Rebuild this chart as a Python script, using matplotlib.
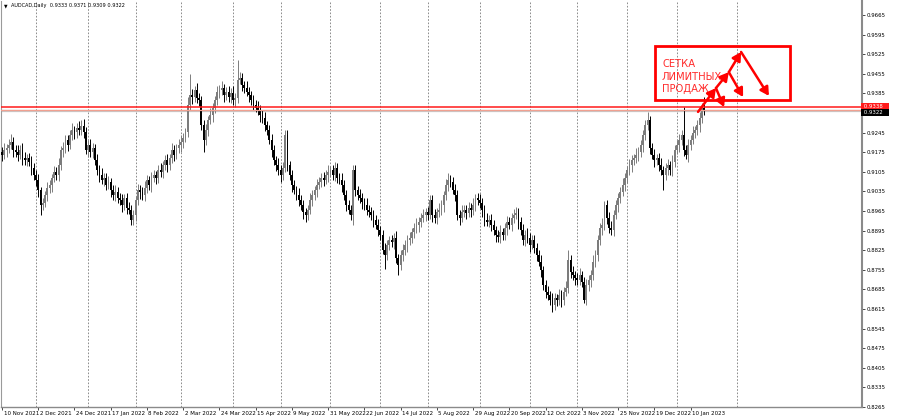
import matplotlib
matplotlib.use('Agg')
import matplotlib.pyplot as plt
import matplotlib.transforms as mtransforms
import numpy as np
import pandas as pd
from matplotlib.patches import Rectangle

# ---------------- data (AUDCAD, Daily) ----------------
start_date = '2021-11-10'
first_open = 0.9176
close = [
    0.9165, 0.9183, 0.9190, 0.9201, 0.9211, 0.9183, 0.9176, 0.9165, 0.9183, 0.9154,
    0.9147, 0.9154, 0.9140, 0.9119, 0.9093, 0.9076, 0.9040, 0.8986, 0.8994, 0.9022,
    0.9047, 0.9058, 0.9083, 0.9104, 0.9093, 0.9129, 0.9183, 0.9190, 0.9219, 0.9201,
    0.9236, 0.9254, 0.9247, 0.9261, 0.9254, 0.9269, 0.9247, 0.9183, 0.9201, 0.9176,
    0.9190, 0.9147, 0.9111, 0.9093, 0.9076, 0.9083, 0.9058, 0.9069, 0.9040, 0.9022,
    0.9033, 0.9011, 0.9004, 0.8986, 0.9011, 0.8976, 0.8969, 0.8933, 0.8951, 0.9004,
    0.9040, 0.9033, 0.9022, 0.9047, 0.9076, 0.9058, 0.9083, 0.9093, 0.9083, 0.9111,
    0.9104, 0.9129, 0.9147, 0.9129, 0.9154, 0.9183, 0.9165, 0.9190, 0.9201, 0.9211,
    0.9226, 0.9247, 0.9344, 0.9379, 0.9372, 0.9397, 0.9369, 0.9361, 0.9272, 0.9219,
    0.9254, 0.9290, 0.9308, 0.9333, 0.9361, 0.9390, 0.9397, 0.9404, 0.9379, 0.9390,
    0.9372, 0.9386, 0.9361, 0.9369, 0.9433, 0.9440, 0.9415, 0.9404, 0.9390, 0.9379,
    0.9361, 0.9344, 0.9333, 0.9326, 0.9308, 0.9297, 0.9272, 0.9254, 0.9219, 0.9183,
    0.9147, 0.9129, 0.9111, 0.9093, 0.9119, 0.9236, 0.9129, 0.9093, 0.9058, 0.9040,
    0.9022, 0.9004, 0.8986, 0.8961, 0.8951, 0.8969, 0.9004, 0.9022, 0.9040, 0.9058,
    0.9069, 0.9083, 0.9076, 0.9093, 0.9104, 0.9111, 0.9093, 0.9119, 0.9083, 0.9076,
    0.9058, 0.9022, 0.8986, 0.8969, 0.8951, 0.9111, 0.9040, 0.9022, 0.9011, 0.8997,
    0.8986, 0.8969, 0.8961, 0.8951, 0.8933, 0.8915, 0.8897, 0.8879, 0.8826, 0.8808,
    0.8844, 0.8861, 0.8854, 0.8869, 0.8797, 0.8772, 0.8808, 0.8826, 0.8844, 0.8861,
    0.8869, 0.8890, 0.8904, 0.8915, 0.8926, 0.8940, 0.8951, 0.8961, 0.8951, 0.9004,
    0.8951, 0.8940, 0.8961, 0.8969, 0.8986, 0.9022, 0.9058, 0.9076, 0.9069, 0.9040,
    0.9022, 0.8951, 0.8940, 0.8961, 0.8969, 0.8958, 0.8976, 0.8969, 0.8986, 0.9011,
    0.9004, 0.8994, 0.8969, 0.8933, 0.8926, 0.8933, 0.8915, 0.8897, 0.8879, 0.8872,
    0.8890, 0.8879, 0.8904, 0.8926, 0.8915, 0.8940, 0.8951, 0.8958, 0.8926, 0.8897,
    0.8861, 0.8879, 0.8869, 0.8844, 0.8861, 0.8833, 0.8808, 0.8783, 0.8754, 0.8701,
    0.8676, 0.8665, 0.8647, 0.8629, 0.8654, 0.8647, 0.8665, 0.8647, 0.8676, 0.8690,
    0.8790, 0.8747, 0.8736, 0.8726, 0.8719, 0.8736, 0.8711, 0.8647, 0.8701, 0.8719,
    0.8736, 0.8783, 0.8808, 0.8861, 0.8904, 0.8915, 0.8986, 0.8940, 0.8904, 0.8897,
    0.8951, 0.8986, 0.9011, 0.9033, 0.9058, 0.9083, 0.9111, 0.9129, 0.9147, 0.9154,
    0.9165, 0.9176, 0.9201, 0.9236, 0.9272, 0.9290, 0.9190, 0.9165, 0.9147, 0.9154,
    0.9129, 0.9111, 0.9093, 0.9119, 0.9129, 0.9111, 0.9140, 0.9183, 0.9201, 0.9219,
    0.9236, 0.9183, 0.9165, 0.9201, 0.9219, 0.9244, 0.9254, 0.9272, 0.9297, 0.9333,
    0.9322,
]
upper_wick_pips = [
    18, 25, 15, 22, 28, 20, 16, 24, 18, 26, 20, 15, 18, 22, 16, 18, 20, 12, 18, 16,
    22, 18, 15, 20, 18, 24, 15, 20, 18, 16, 18, 24, 15, 18, 26, 20, 24, 18, 16, 20,
    18, 15, 20, 18, 24, 16, 18, 20, 15, 18, 24, 16, 18, 20, 15, 18, 20, 16, 18, 15,
    20, 18, 16, 24, 18, 15, 20, 18, 16, 18, 24, 16, 18, 20, 15, 26, 18, 16, 20, 24,
    18, 16, 28, 75, 20, 16, 24, 18, 16, 18, 20, 16, 24, 18, 16, 20, 18, 24, 16, 18,
    20, 18, 24, 16, 71, 20, 18, 16, 24, 18, 16, 20, 18, 24, 16, 18, 20, 16, 18, 20,
    18, 16, 24, 18, 20, 18, 18, 16, 20, 18, 16, 24, 18, 20, 16, 18, 24, 18, 16, 20,
    18, 16, 20, 18, 24, 16, 18, 20, 16, 18, 24, 16, 18, 20, 16, 20, 18, 16, 20, 18,
    16, 24, 18, 20, 16, 18, 20, 16, 18, 24, 18, 16, 20, 18, 24, 16, 18, 20, 16, 18,
    20, 16, 18, 24, 16, 18, 20, 16, 18, 18, 18, 20, 16, 24, 18, 16, 20, 25, 18, 16,
    20, 18, 16, 24, 18, 16, 20, 18, 24, 16, 18, 20, 16, 18, 24, 16, 20, 18, 16, 18,
    24, 16, 18, 20, 16, 18, 20, 20, 18, 16, 20, 18, 24, 16, 18, 20, 16, 18, 24, 16,
    18, 20, 16, 24, 18, 16, 20, 18, 16, 24, 36, 18, 20, 16, 18, 24, 16, 18, 20, 16,
    18, 24, 16, 20, 18, 26, 16, 18, 20, 24, 16, 18, 20, 16, 24, 18, 16, 20, 18, 16,
    24, 18, 16, 20, 18, 29, 16, 18, 20, 16, 18, 24, 16, 18, 20, 16, 24, 18, 16, 20,
    18, 100, 16, 20, 18, 24, 16, 18, 20, 16, 38,
]
lower_wick_pips = [
    20, 16, 24, 18, 15, 26, 18, 20, 16, 24, 18, 20, 16, 24, 18, 20, 26, 35, 18, 16,
    20, 18, 24, 16, 18, 20, 16, 24, 18, 20, 16, 18, 24, 20, 16, 18, 20, 16, 24, 18,
    20, 16, 18, 24, 16, 20, 18, 16, 24, 18, 20, 18, 16, 24, 18, 20, 16, 18, 18, 20,
    16, 24, 18, 20, 16, 18, 24, 16, 20, 18, 16, 20, 18, 24, 16, 18, 20, 16, 18, 24,
    20, 16, 18, 20, 24, 16, 18, 20, 18, 43, 18, 20, 16, 24, 18, 16, 20, 18, 24, 16,
    18, 20, 16, 24, 18, 16, 20, 18, 16, 24, 18, 20, 16, 18, 24, 16, 20, 18, 16, 24,
    18, 20, 16, 24, 18, 16, 20, 18, 24, 16, 18, 20, 16, 24, 25, 18, 16, 20, 18, 24,
    16, 18, 20, 16, 24, 18, 16, 20, 18, 16, 24, 18, 20, 16, 18, 36, 20, 18, 16, 24,
    18, 20, 16, 18, 24, 16, 20, 18, 16, 50, 18, 20, 16, 24, 18, 36, 16, 20, 18, 24,
    16, 18, 20, 16, 24, 18, 16, 20, 18, 16, 24, 18, 20, 16, 18, 24, 16, 20, 18, 16,
    20, 18, 24, 16, 18, 20, 16, 24, 18, 20, 16, 18, 24, 20, 16, 18, 20, 16, 24, 18,
    20, 16, 18, 24, 16, 20, 18, 16, 24, 18, 16, 20, 18, 24, 16, 18, 20, 16, 24, 18,
    20, 18, 16, 25, 18, 20, 16, 24, 18, 16, 18, 20, 16, 24, 18, 20, 16, 10, 18, 20,
    24, 16, 18, 20, 16, 24, 18, 20, 16, 18, 20, 16, 24, 18, 16, 20, 18, 16, 24, 18,
    16, 20, 18, 24, 16, 18, 20, 16, 24, 18, 20, 16, 53, 18, 24, 16, 20, 18, 16, 24,
    18, 20, 16, 24, 18, 16, 20, 18, 24, 16, 13,
]
price_ticks = [0.8265, 0.8335, 0.8405, 0.8475, 0.8545, 0.8615, 0.8685, 0.8755,
               0.8825, 0.8895, 0.8965, 0.9035, 0.9105, 0.9175, 0.9245, 0.9315,
               0.9385, 0.9455, 0.9525, 0.9595, 0.9665]
hidden_tick = 0.9315          # covered by the current-price labels
label_every = 16
header = "AUDCAD,Daily  0.9333 0.9371 0.9309 0.9322"
limit_line = 0.9338
ask_line = 0.9326
bid_line = 0.9322
note_text = "СЕТКА\nЛИМИТНЫХ\nПРОДАЖ"
# annotation drawing (bar index, price)
note_box = (288.3, 0.9361, 347.9, 0.9554)
note_pos = (291.4, 0.9444)
arrows = [((307.3, 0.9319), (315.2, 0.9404)),
          ((315.2, 0.9404), (318.8, 0.9336)),
          ((315.2, 0.9404), (320.9, 0.9461)),
          ((320.9, 0.9461), (327.2, 0.9372)),
          ((320.9, 0.9461), (326.3, 0.9533)),
          ((326.3, 0.9533), (338.6, 0.9376))]
future_grid = [324.5]

# ---------------- figure ----------------
W, H = 900, 420
fig = plt.figure(figsize=(9, 4.2), dpi=100)
fig.patch.set_facecolor('white')
ax = fig.add_axes([1 / W, 1 - 407 / H, 861 / W, 406 / H])
dx = 2.265
ax.set_xlim((1 - 2) / dx, (862 - 2) / dx)
ax.set_ylim(0.8265, 0.8265 + 406 / 2800)

n = len(close)
c = np.array(close)
o = np.concatenate([[first_open], c[:-1]])
uw = np.array(upper_wick_pips[:n]) / 1e4
lw_ = np.array(lower_wick_pips[:n]) / 1e4
hi = np.maximum(o, c) + uw
lo = np.minimum(o, c) - lw_
idx = np.arange(n)
up = c >= o
cols = np.where(up, '#7c7c7c', '#000000')

dates = pd.bdate_range(start_date, periods=n)

# month grid
month_starts = [i for i in range(1, n) if dates[i].month != dates[i - 1].month]
for gx in month_starts + future_grid:
    ax.axvline(gx, color='#7a7a7a', lw=0.6, ls=(0, (2, 2)), zorder=0)

ax.vlines(idx, lo, hi, colors=cols, lw=0.7, zorder=2)
ax.bar(idx, np.maximum(np.abs(c - o), 0.00025), bottom=np.minimum(o, c),
       width=0.78, color=cols, linewidth=0, zorder=3)

# horizontal lines
ax.axhline(bid_line, color='#c8c8c8', lw=1.6, zorder=1)
ax.axhline(ask_line, color='#f0a090', lw=0.9, zorder=4)
ax.axhline(limit_line, color='#ff1a1a', lw=1.1, zorder=4)

# spines
ax.spines['top'].set_visible(False)
ax.spines['left'].set_color('#9a9a9a')
ax.spines['left'].set_linewidth(0.8)
ax.spines['right'].set_color('#8a8a8a')
ax.spines['right'].set_linewidth(1.5)
ax.spines['bottom'].set_color('#8a8a8a')
ax.spines['bottom'].set_linewidth(1.0)

# y axis on right
ax.yaxis.tick_right()
ax.set_yticks(price_ticks)
ax.set_yticklabels(["" if p == hidden_tick else f"{p:.4f}" for p in price_ticks])
ax.tick_params(axis='y', length=2, width=0.5, pad=1.5, labelsize=3.9,
               colors='#000000', direction='out')

# x axis labels
lab_idx = list(range(0, n, label_every))
ax.set_xticks(lab_idx)
ax.set_xticklabels([f"{dates[i].day} {dates[i].strftime('%b %Y')}" for i in lab_idx])
ax.tick_params(axis='x', length=2, width=0.5, pad=1.2, labelsize=3.95, direction='out')
offset = mtransforms.ScaledTranslation(1.5 / 100, 0, fig.dpi_scale_trans)
for lbl in ax.get_xticklabels():
    lbl.set_ha('left')
    lbl.set_transform(lbl.get_transform() + offset)

# price labels boxes on right
btrans = mtransforms.blended_transform_factory(ax.transAxes, ax.transData)
ax.text(1.0, limit_line + 0.0001, f" {limit_line:.4f}   ", transform=btrans, fontsize=3.9,
        color='white', va='center', ha='left', zorder=10, clip_on=False,
        bbox=dict(boxstyle='square,pad=0.12', fc='#ff1a1a', ec='none'))
ax.text(1.0, bid_line - 0.0005, f" {bid_line:.4f}   ", transform=btrans, fontsize=3.9,
        color='white', va='center', ha='left', zorder=10, clip_on=False,
        bbox=dict(boxstyle='square,pad=0.12', fc='#000000', ec='none'))

# header
fig.text(4 / W, 1 - 5.5 / H, "\u25BC", fontsize=3.3, va='center', ha='left')
fig.text(11 / W, 1 - 5.5 / H, header, fontsize=3.6, va='center', ha='left')

# annotation
x0, y0, x1, y1 = note_box
ax.add_patch(Rectangle((x0, y0), x1 - x0, y1 - y0, fill=False, ec='#ff0000',
                       lw=2.0, zorder=6))
ax.text(note_pos[0], note_pos[1], note_text, fontsize=7.2, color='#ff2a2a',
        va='center', ha='left', linespacing=1.3, zorder=6)
for (a, b) in arrows:
    ax.annotate('', xy=b, xytext=a, zorder=7,
                arrowprops=dict(arrowstyle='-|>,head_length=0.5,head_width=0.28',
                                color='#ff0000', lw=1.8, shrinkA=0, shrinkB=0))

fig.savefig('out.png', dpi=100, facecolor='white')
